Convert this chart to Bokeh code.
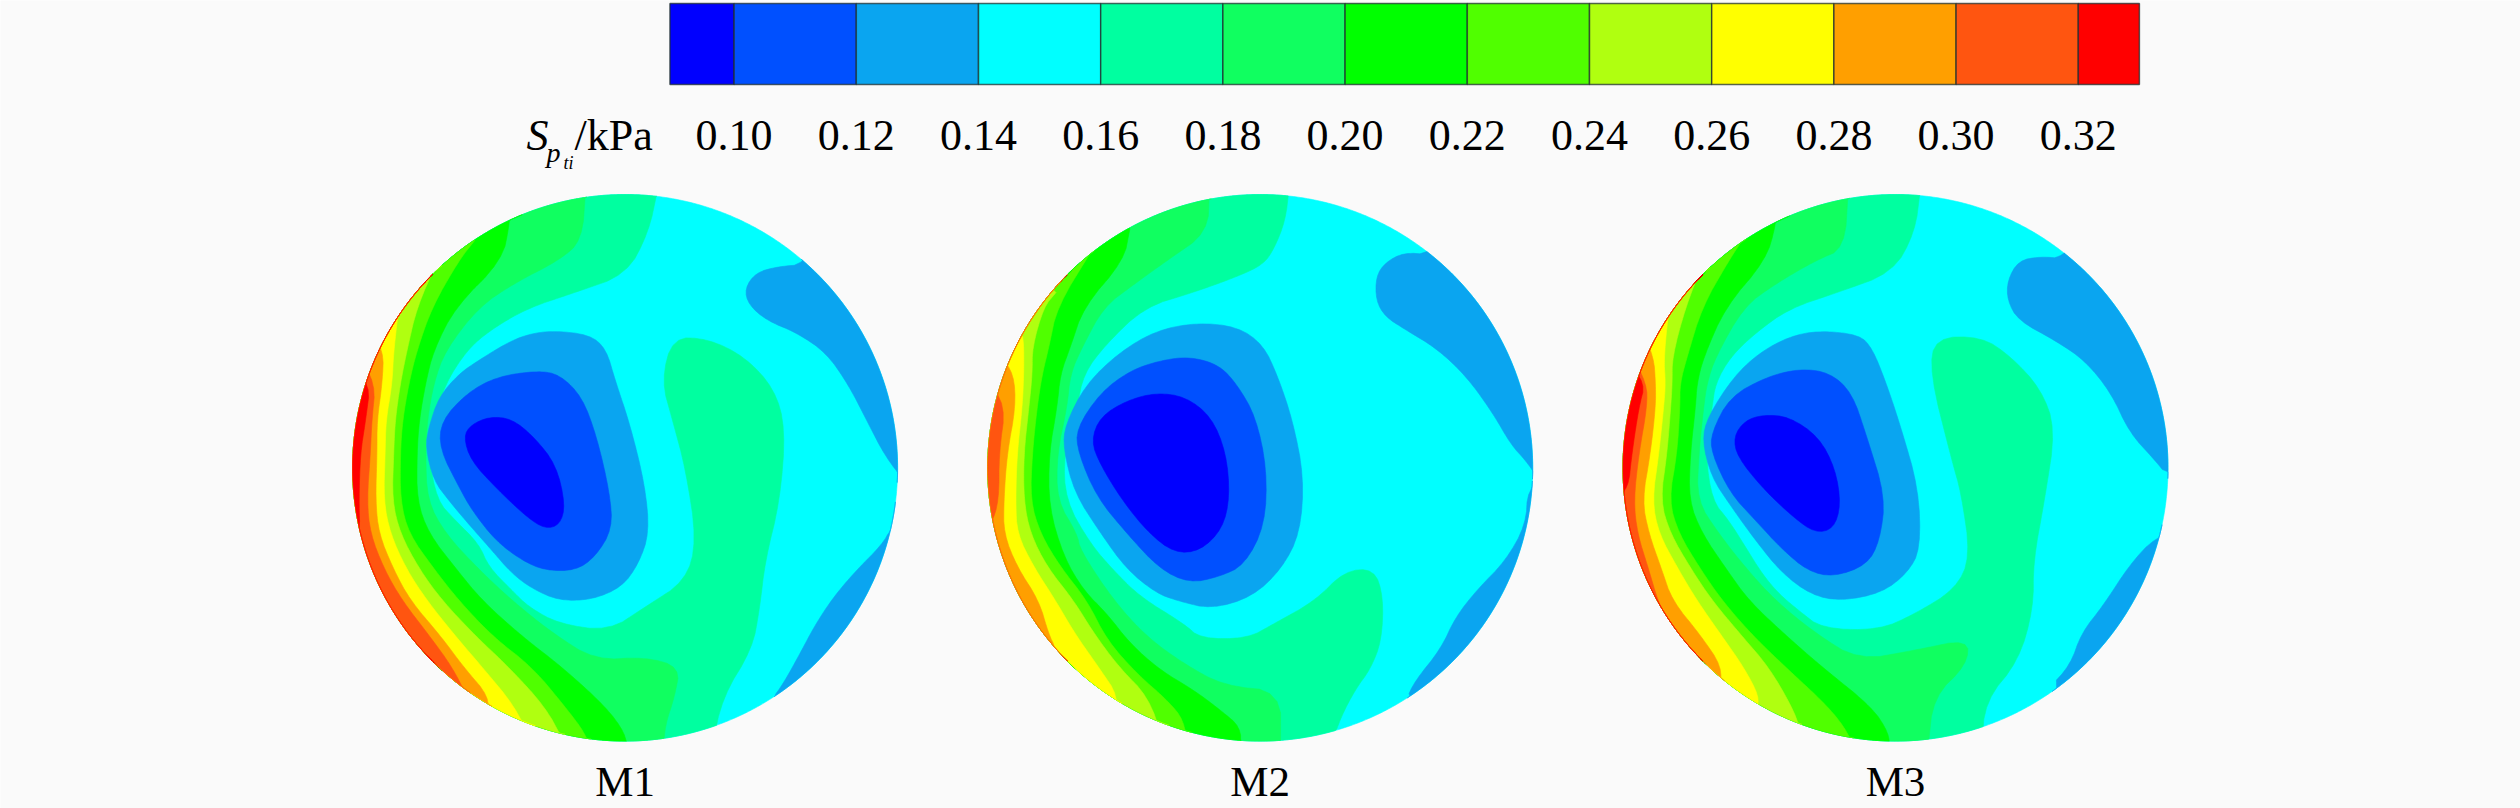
import numpy as np
from bokeh.plotting import figure
from bokeh.models import Range1d
from bokeh.core.properties import value
from bokeh.embed import file_html
from bokeh.resources import INLINE

# ---- colour scale ----------------------------------------------------------
tick_labels = ["0.10","0.12","0.14","0.16","0.18","0.20","0.22","0.24","0.26","0.28","0.30","0.32"]
tick_values = [0.10,0.12,0.14,0.16,0.18,0.20,0.22,0.24,0.26,0.28,0.30,0.32]
band_low  = [0.0895,0.10,0.12,0.14,0.16,0.18,0.20,0.22,0.24,0.26,0.28,0.30,0.32]
band_high = [0.10,0.12,0.14,0.16,0.18,0.20,0.22,0.24,0.26,0.28,0.30,0.32,0.33]
band_colors = ["#0000FF","#0050FF","#0AA5F0","#00FFFF","#00FFA0","#10FF60","#00FF00",
               "#50FF00","#B0FF10","#FFFF00","#FF9F00","#FF5510","#FF0000"]

# ---- contour outlines, local reading units ---------------------------------
# "GEk": boundary of the area where the value is in band k or higher, rim to rim
# "LEk": closed outline of the area where the value is in band k or lower
M1_GE = {
 4:[(885,20),(860,130),(800,235),(660,280),(530,320),(430,375),(369,424),(311,507),(279,600),(265,682),(288,799),(338,849),(401,907),(428,965),(491,1024),(536,1065),(617,1107),(752,1125),(851,1065),(960,1000),(990,900),(960,720),(925,600),(895,500),(925,392),(1020,395),(1120,440),(1200,520),(1230,620),(1215,800),(1175,950),(1160,1070),(1140,1170),(1060,1290),(1030,1420)],
 5:[(690,20),(680,150),(617,200),(500,255),(401,316),(311,424),(279,507),(262,600),(257,682),(262,799),(311,882),(400,970),(491,1049),(600,1130),(716,1198),(851,1190),(945,1215),(930,1290),(905,1360),(900,1420)],
 6:[(490,20),(485,105),(464,200),(338,316),(279,424),(257,507),(240,600),(234,682),(234,799),(266,882),(340,970),(410,1049),(520,1140),(626,1215),(745,1315),(797,1381),(800,1420)],
 7:[(390,150),(347,200),(275,316),(234,424),(212,507),(195,600),(189,682),(189,799),(212,882),(280,970),(347,1049),(440,1140),(545,1215),(635,1315),(689,1381),(700,1420)],
 8:[(290,200),(234,316),(207,424),(189,507),(175,600),(171,682),(167,799),(189,882),(240,970),(302,1049),(395,1140),(482,1215),(581,1315),(630,1400)],
 9:[(190,280),(171,424),(167,507),(150,600),(148,682),(144,799),(162,882),(205,970),(261,1049),(340,1140),(410,1215),(500,1315),(540,1400)],
 10:[(100,370),(144,424),(140,507),(126,600),(126,682),(122,799),(131,882),(170,970),(216,1049),(300,1140),(360,1215),(430,1290),(420,1340)],
 11:[(70,430),(122,507),(112,600),(108,682),(99,799),(108,882),(145,970),(194,1049),(270,1140),(329,1215),(370,1290)],
 12:[(50,480),(108,507),(95,600),(81,682),(77,799),(80,882),(50,900)],
}
M1_LE = {
 2:[(600,375),(700,385),(745,420),(770,500),(810,610),(850,760),(862,880),(833,957),(788,1015),(707,1047),(617,1049),(545,1019),(491,982),(428,915),(365,849),(320,799),(279,749),(257,666),(266,616),(293,541),(347,483),(401,449),(473,408),(530,385)],
 1:[(560,475),(620,485),(680,540),(720,640),(755,780),(762,870),(716,940),(662,974),(581,974),(518,949),(446,899),(383,824),(350,770),(295,670),(300,600),(370,530),(450,490)],
 0:[(430,590),(490,595),(550,640),(610,710),(635,810),(620,860),(580,870),(530,840),(450,770),(380,700),(360,640),(380,610)],
}
M1_UPPER_RIGHT = [(1120,270),(1150,230),(1210,215),(1280,210),(1350,100),(1800,300),(1800,760),(1560,760),(1500,690),(1450,600),(1400,510),(1340,430),(1260,380),(1180,350),(1130,310)]
M1_LOWER_RIGHT = [(1600,780),(1515,870),(1490,910),(1420,975),(1360,1040),(1310,1110),(1270,1180),(1225,1255),(1190,1300),(1400,1500),(1800,1000)]

M2_GE = {
 4:[(780,20),(770,100),(740,170),(710,210),(640,240),(520,280),(390,316),(284,410),(225,483),(207,566),(171,682),(176,799),(243,907),(306,974),(378,1040),(496,1107),(541,1144),(667,1144),(739,1107),(850,1050),(930,975),(1010,970),(1035,1040),(1030,1150),(1000,1220),(960,1270),(920,1340),(890,1420)],
 5:[(565,20),(560,130),(450,200),(360,260),(279,316),(221,416),(189,483),(180,566),(153,682),(153,799),(207,882),(216,924),(306,1049),(396,1140),(496,1207),(604,1262),(757,1275),(757,1420)],
 6:[(350,120),(333,200),(225,316),(189,416),(162,483),(153,566),(131,682),(131,816),(171,940),(225,1024),(288,1082),(351,1157),(432,1223),(523,1273),(595,1323),(649,1365),(649,1420)],
 7:[(250,170),(153,316),(131,416),(113,483),(99,566),(86,682),(81,799),(108,882),(162,965),(234,1049),(288,1148),(369,1232),(451,1298),(496,1348),(505,1420)],
 8:[(150,280),(117,316),(86,416),(86,483),(77,566),(63,682),(63,799),(81,882),(126,965),(198,1049),(252,1130),(320,1215),(400,1290),(440,1400)],
 9:[(60,390),(63,416),(63,483),(59,566),(45,682),(41,799),(45,882),(90,965),(149,1049),(200,1130),(265,1215),(320,1290),(300,1350)],
 10:[(0,440),(36,483),(41,566),(18,682),(9,799),(9,882),(45,965),(104,1049),(130,1132),(150,1170),(120,1200)],
 11:[(-40,500),(14,560),(-4,682),(-4,799),(-25,860),(-60,880)],
}
M2_LE = {
 2:[(530,355),(640,365),(710,410),(750,490),(790,600),(820,740),(810,880),(760,970),(680,1040),(570,1070),(480,1050),(420,1030),(340,970),(270,880),(200,780),(170,670),(175,610),(230,510),(320,430),(420,375)],
 1:[(510,440),(590,460),(640,510),(690,590),(720,720),(715,860),(660,960),(590,990),(510,1005),(430,970),(340,880),(260,790),(210,680),(205,620),(270,530),(350,475),(430,450)],
 0:[(420,530),(500,540),(570,590),(610,680),(620,790),(600,870),(540,925),(470,930),(400,880),(330,800),(270,710),(245,650),(270,590),(340,550)],
}
M2_UPPER_RIGHT = [(1015,240),(1040,205),(1090,180),(1160,185),(1250,80),(1700,300),(1700,760),(1450,740),(1420,700),(1380,660),(1330,580),(1260,490),(1180,420),(1090,370),(1040,340),(1015,300)]
M2_LOWER_RIGHT = [(1480,740),(1425,770),(1420,860),(1365,950),(1290,1020),(1230,1090),(1190,1170),(1120,1250),(1095,1300),(1300,1550),(1750,1100)]

M3_GE = {
 4:[(865,20),(850,130),(790,230),(640,280),(510,320),(420,380),(351,441),(311,507),(302,566),(284,682),(302,799),(347,849),(392,915),(437,982),(482,1032),(536,1074),(599,1119),(752,1123),(851,1082),(960,1020),(1000,940),(975,780),(950,700),(890,480),(905,392),(1030,390),(1110,440),(1190,520),(1230,620),(1200,800),(1170,950),(1170,1070),(1130,1200),(1040,1300),(1030,1420)],
 5:[(670,20),(660,170),(581,200),(470,260),(387,316),(311,441),(288,507),(279,566),(266,682),(261,799),(320,882),(395,970),(473,1049),(580,1130),(698,1198),(851,1173),(995,1145),(990,1210),(900,1290),(885,1420)],
 6:[(480,20),(475,110),(446,200),(338,316),(279,441),(261,507),(257,566),(243,682),(239,799),(275,882),(340,970),(401,1049),(500,1135),(599,1215),(734,1315),(780,1381),(780,1420)],
 7:[(390,140),(347,200),(275,316),(234,441),(215,507),(215,566),(207,682),(185,799),(212,882),(270,970),(329,1049),(410,1135),(500,1215),(617,1315),(671,1381),(680,1420)],
 8:[(280,200),(230,316),(194,441),(194,507),(190,566),(180,682),(162,799),(189,882),(245,970),(302,1049),(380,1135),(455,1215),(518,1315),(540,1370)],
 9:[(190,280),(171,441),(176,507),(171,566),(158,682),(140,799),(158,882),(210,970),(261,1049),(330,1140),(387,1215),(430,1290),(420,1320)],
 10:[(110,370),(144,441),(149,507),(149,566),(135,682),(113,799),(131,882),(165,970),(194,1049),(270,1135),(329,1215),(320,1270)],
 11:[(80,430),(125,507),(126,566),(104,682),(90,799),(100,882),(130,970),(155,1049),(190,1120),(170,1150)],
 12:[(70,450),(121,507),(104,566),(85,682),(75,770),(40,790)],
}
M3_LE = {
 2:[(590,375),(700,385),(735,420),(770,500),(810,610),(860,770),(865,920),(830,980),(760,1030),(650,1050),(570,1035),(490,980),(420,900),(350,810),(300,740),(275,650),(290,590),(360,490),(430,430),(510,390)],
 1:[(540,470),(620,480),(680,530),(720,640),(770,790),(755,900),(720,960),(630,990),(560,975),(490,920),(420,850),(350,780),(300,680),(300,630),(350,540),(450,490)],
 0:[(440,585),(510,590),(590,640),(635,720),(650,810),(630,870),(580,880),(520,840),(440,770),(370,690),(360,640),(390,600)],
}
M3_UPPER_RIGHT = [(1100,250),(1130,200),(1190,190),(1250,195),(1330,90),(1800,300),(1800,760),(1530,735),(1500,700),(1430,630),(1380,530),(1310,450),(1230,400),(1130,350),(1100,300)]
M3_LOWER_RIGHT = [(1600,860),(1500,890),(1430,960),(1360,1060),(1300,1130),(1270,1210),(1210,1270),(1400,1500),(1800,1000)]

panel_names = ["M1","M2","M3"]
panels = [(M1_GE,M1_LE,M1_UPPER_RIGHT,M1_LOWER_RIGHT),
          (M2_GE,M2_LE,M2_UPPER_RIGHT,M2_LOWER_RIGHT),
          (M3_GE,M3_LE,M3_UPPER_RIGHT,M3_LOWER_RIGHT)]

# ---- layout ----------------------------------------------------------------
W, H = 2520, 808
BG = "#FAFAFA"
FONT = "Liberation Serif"
read_center_x = [796.5, 702.0, 797.5]   # disc centre in reading units
read_center_y = 717.5
read_rx, read_ry = 736.5, 682.5
disc_x_px = [624.6, 1259.7, 1895.0]     # disc centre on the page
disc_y_px = 467.3
disc_rx_px, disc_ry_px = 272.5, 273.3

def chaikin(pts, closed, n=2):
    pts = np.asarray(pts, float)
    for _ in range(n):
        a = pts if closed else pts[:-1]
        b = np.roll(pts, -1, axis=0) if closed else pts[1:]
        q = 0.75*a + 0.25*b
        r = 0.25*a + 0.75*b
        mid = np.empty((2*len(a), 2))
        mid[0::2], mid[1::2] = q, r
        pts = mid if closed else np.vstack([pts[0], mid, pts[-1]])
    return pts

def to_disc(pts, i):
    pts = np.asarray(pts, float)
    return np.c_[(pts[:,0]-read_center_x[i])/read_rx, (read_center_y-pts[:,1])/read_ry]

def clip_to_disc(uv, step=0.008):
    uv = np.vstack([uv, uv[:1]])
    out = []
    for a, b in zip(uv[:-1], uv[1:]):
        n = max(1, int(np.hypot(*(b-a))/step))
        t = np.arange(n)/n
        out.append(a + (b-a)*t[:,None])
    uv = np.vstack(out)
    r = np.maximum(1.0, np.hypot(uv[:,0], uv[:,1]))
    return uv/r[:,None]

def rim_area(edge, i):
    uv = to_disc(chaikin(edge, closed=False), i)
    far = np.array([[-9.0,-9.0],[-9.0,9.0]])   # close round the left, off the disc
    return clip_to_disc(np.vstack([uv, far]))

def blob(outline, i):
    return clip_to_disc(to_disc(chaikin(outline, closed=True), i))

p = figure(width=W, height=H, output_backend="svg", toolbar_location=None,
           x_range=Range1d(0.10-733.6/6110, 0.10+(W-733.6)/6110), y_range=Range1d(H, 0),
           min_border=0, background_fill_color=BG, border_fill_color=BG,
           outline_line_color=None)
p.axis.visible = False
p.grid.visible = False
p.extra_y_ranges = {"disc": Range1d(-(H-disc_y_px)/disc_ry_px, disc_y_px/disc_ry_px)}
for name, cx in zip(panel_names, disc_x_px):
    p.extra_x_ranges[name] = Range1d(-cx/disc_rx_px, (W-cx)/disc_rx_px)

# colour bar, on the value scale
p.quad(left=band_low, right=band_high, top=3, bottom=84, fill_color=band_colors,
       line_color="#203030", line_alpha=0.75, line_width=1.5)
p.text(x=tick_values, y=[135]*len(tick_values), text=tick_labels, text_align="center",
       text_baseline="alphabetic", text_font=value(FONT), text_font_size="44px", text_color="#000000")

# title of the scale, placed by its own pieces (page pixels converted to the value scale)
def vx(px):
    return 0.10 + (px-733.6)/6110
for t, x, y, size, style in [("S",526,135,"44px","italic"),("p",546,152,"28px","italic"),
                             ("ti",563,162,"18px","italic"),("/kPa",574,135,"44px","normal")]:
    p.text(x=[vx(x)], y=[y], text=[t], text_baseline="alphabetic", text_font=value(FONT),
           text_font_size=size, text_font_style=style, text_color="#000000")

# discs
for i, (name, (ge, le, ur, lr)) in enumerate(zip(panel_names, panels)):
    xs, ys, colors = [], [], []
    def add(uv, k):
        xs.append(uv[:,0].tolist()); ys.append(uv[:,1].tolist()); colors.append(band_colors[k])
    t = np.linspace(0, 2*np.pi, 720, endpoint=False)
    add(np.c_[np.cos(t), np.sin(t)], 3)
    for k in sorted(ge):
        add(rim_area(ge[k], i), k)
    add(blob(ur, i), 2)
    add(blob(lr, i), 2)
    for k in sorted(le, reverse=True):
        add(blob(le[k], i), k)
    p.patches(xs, ys, fill_color=colors, line_color=colors, line_width=0.6,
              x_range_name=name, y_range_name="disc")
    p.text(x=[0], y=[-1.148], text=[name], text_align="center", text_baseline="alphabetic",
           text_font=value(FONT), text_font_size="43px", text_color="#000000",
           x_range_name=name, y_range_name="disc")

open("out.html", "w").write(file_html(p, INLINE))
